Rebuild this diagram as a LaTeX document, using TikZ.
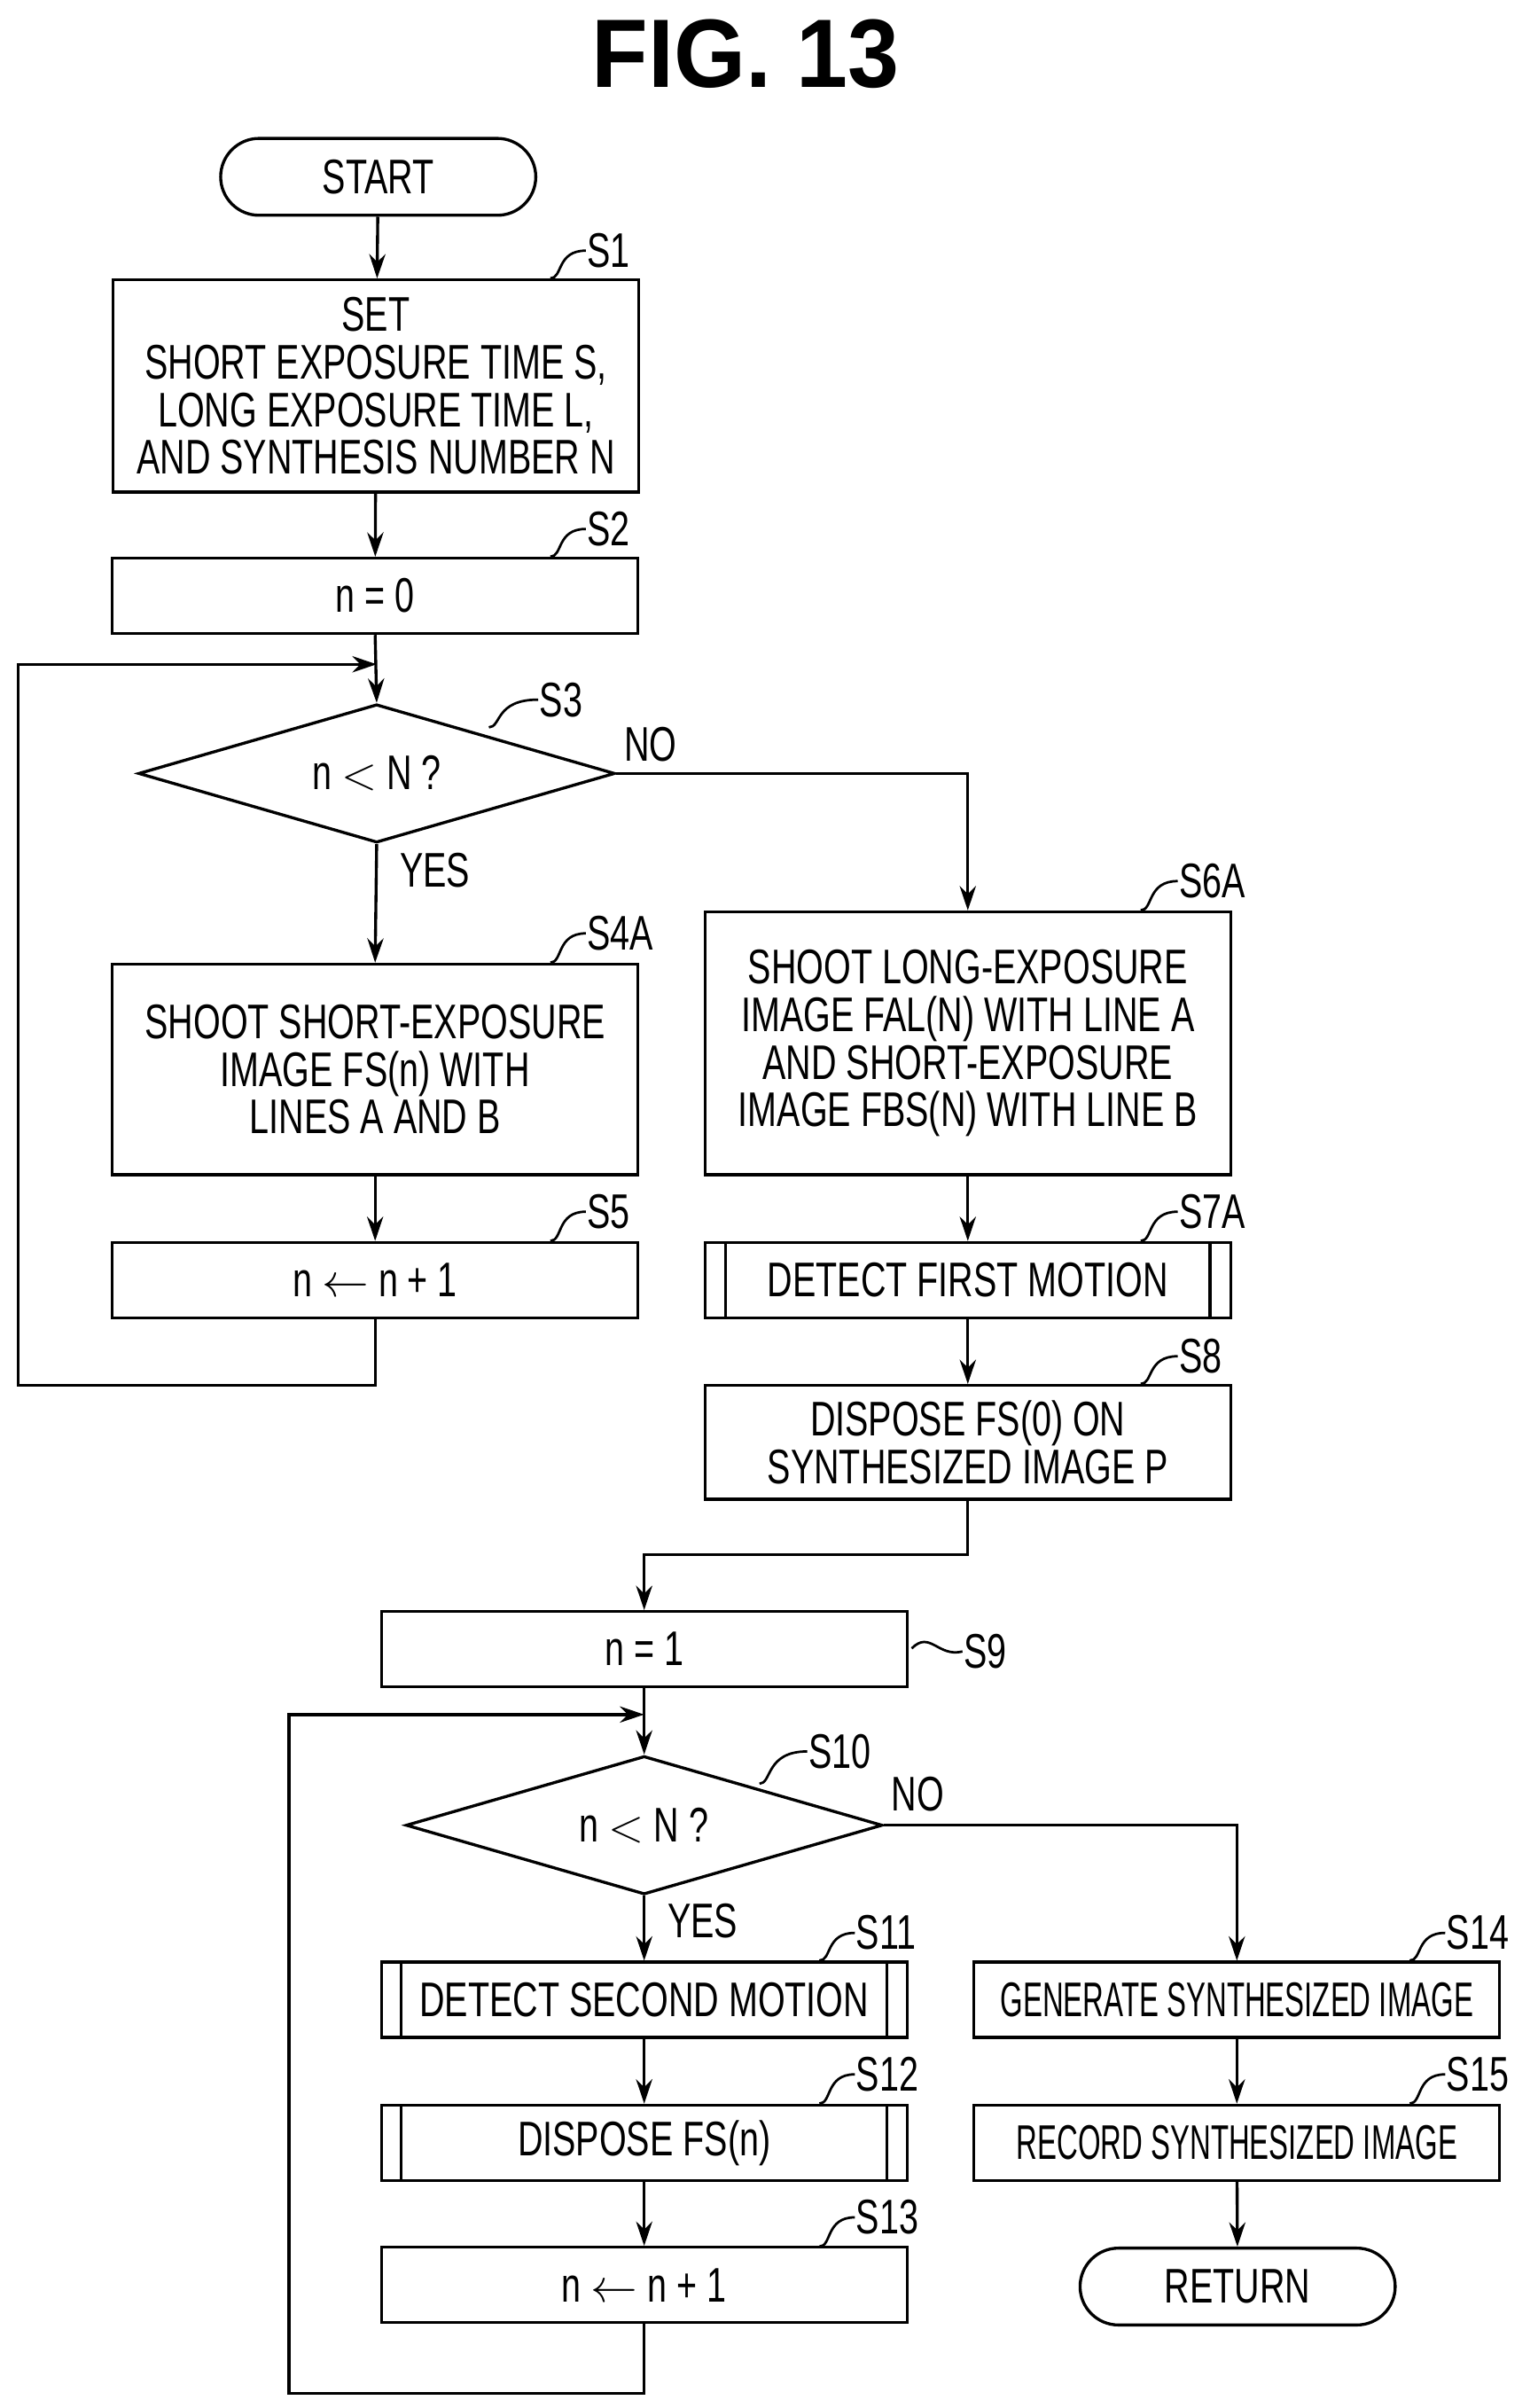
\documentclass[tikz,border=0pt]{standalone}
\usepackage{fontspec}
\setmainfont{Liberation Sans}[FakeStretch=0.72]
\newfontfamily\narrowfont{Liberation Sans}[FakeStretch=0.6]
\newfontfamily\titlefont{Liberation Sans}[FakeStretch=0.95]
\usetikzlibrary{shapes.geometric,arrows.meta}
\begin{document}
\begin{tikzpicture}[x=0.02cm,y=-0.02cm,line width=1.1pt,
  every node/.style={font=\fontsize{18}{17.6}\selectfont,align=center,inner sep=0pt},
  box/.style={draw,minimum width=6.84cm},
  sbox/.style={box,minimum height=0.98cm},
  term/.style={draw,rounded corners=0.5cm,minimum width=4.1cm,minimum height=1cm},
  dia/.style={draw,diamond,aspect=3.44,minimum width=6.2cm,minimum height=1.8cm,inner sep=0pt},
  arr/.style={-{Stealth[length=9pt,width=6pt]}},
  lab/.style={anchor=west}]
\useasboundingbox (0,0) rectangle (1000,1566);
\node[font=\titlefont\fontsize{36}{40}\bfseries\selectfont] (title) at (485,35) {FIG. 13};
\node[term] (start) at (246,115) {START};
\node[box,minimum height=2.76cm] (s1) at (244.5,251) {SET\\SHORT EXPOSURE TIME S,\\LONG EXPOSURE TIME L,\\AND SYNTHESIS NUMBER N};
\node[sbox] (s2) at (244,387.5) {n = 0};
\node[dia] (s3) at (245,503) {n $<$ N ?};
\node[box,minimum height=2.74cm] (s4) at (244,695.5) {SHOOT SHORT-EXPOSURE\\IMAGE FS(n) WITH\\LINES A AND B};
\node[sbox] (s5) at (244,832.5) {n $\leftarrow$ n + 1};
\node[box,minimum height=3.42cm] (s6) at (629.5,678.5) {SHOOT LONG-EXPOSURE\\IMAGE FAL(N) WITH LINE A\\AND SHORT-EXPOSURE\\IMAGE FBS(N) WITH LINE B};
\node[sbox] (s7) at (629.5,832.5) {DETECT FIRST MOTION};
\draw (472,808) -- (472,857) (787,808) -- (787,857);
\node[box,minimum height=1.48cm] (s8) at (629.5,938) {DISPOSE FS(0) ON\\SYNTHESIZED IMAGE P};
\node[sbox] (s9) at (419,1072.5) {n = 1};
\node[dia] (s10) at (419,1187) {n $<$ N ?};
\node[sbox] (s11) at (419,1300.5) {DETECT SECOND MOTION};
\node[sbox] (s12) at (419,1393.5) {DISPOSE FS(n)};
\draw (261,1276) -- (261,1325) (577,1276) -- (577,1325) (261,1369) -- (261,1418) (577,1369) -- (577,1418);
\node[sbox] (s13) at (419,1486) {n $\leftarrow$ n + 1};
\node[sbox,font=\narrowfont\fontsize{18}{17.6}\selectfont] (s14) at (804.5,1300.5) {GENERATE SYNTHESIZED IMAGE};
\node[sbox,font=\narrowfont\fontsize{18}{17.6}\selectfont] (s15) at (804.5,1393.5) {RECORD SYNTHESIZED IMAGE};
\node[term] (ret) at (805,1487) {RETURN};
% connectors
\draw[arr] (start) -- (s1);
\draw[arr] (s1) -- (s2);
\draw[arr] (s2.south) -- (s3.north);
\draw[arr] (s3.south) -- (s4.north);
\draw[arr] (s4) -- (s5);
\coordinate (j1) at (245,432);
\draw[arr] (s5.south) -- ++(0,43) -| (12,432) -- (j1);
\draw[arr] (s3.east) -| (s6.north);
\draw[arr] (s6) -- (s7);
\draw[arr] (s7) -- (s8);
\draw[arr] (s8.south) -- ++(0,35) -| (s9.north);
\draw[arr] (s9.south) -- (s10.north);
\coordinate (j2) at (419,1115);
\draw[arr] (s13.south) -- ++(0,45) -| (188,1115) -- (j2);
\draw[arr] (s10.south) -- (s11.north);
\draw[arr] (s11) -- (s12);
\draw[arr] (s12) -- (s13);
\draw[arr] (s10.east) -| (s14.north);
\draw[arr] (s14) -- (s15);
\draw[arr] (s15) -- (ret);
% yes/no
\node (n1) at (423,484) {NO};
\node (y1) at (283,566) {YES};
\node (n2) at (597,1167) {NO};
\node (y2) at (457,1249) {YES};
% step labels with squiggles
\def\sq#1#2#3#4{\draw[line width=0.9pt] (#1,#2) .. controls (#1+8,#2) and (#1+4,#4) .. (#3,#4);}
\sq{358}{181}{381}{163} \node[lab] (l1) at (381,163) {S1};
\sq{358}{362}{381}{344} \node[lab] (l2) at (381,344) {S2};
\sq{318}{473}{350}{455} \node[lab] (l3) at (350,455) {S3};
\sq{358}{626}{381}{607} \node[lab] (l4) at (381,607) {S4A};
\sq{358}{807}{381}{788} \node[lab] (l5) at (381,788) {S5};
\sq{742}{592}{766}{573} \node[lab] (l6) at (766,573) {S6A};
\sq{742}{807}{766}{788} \node[lab] (l7) at (766,788) {S7A};
\sq{742}{900}{766}{882} \node[lab] (l8) at (766,882) {S8};
\draw[line width=0.9pt] (593,1072) .. controls (605,1060) and (610,1078) .. (626,1074);
\node[lab] (l9) at (626,1074) {S9};
\sq{494}{1160}{525}{1139} \node[lab] (l10) at (525,1139) {S10};
\sq{533}{1275}{556}{1257} \node[lab] (l11) at (556,1257) {S11};
\sq{533}{1368}{556}{1349} \node[lab] (l12) at (556,1349) {S12};
\sq{533}{1461}{556}{1442} \node[lab] (l13) at (556,1442) {S13};
\sq{917}{1275}{940}{1257} \node[lab] (l14) at (940,1257) {S14};
\sq{917}{1368}{940}{1349} \node[lab] (l15) at (940,1349) {S15};
\end{tikzpicture}
\end{document}
